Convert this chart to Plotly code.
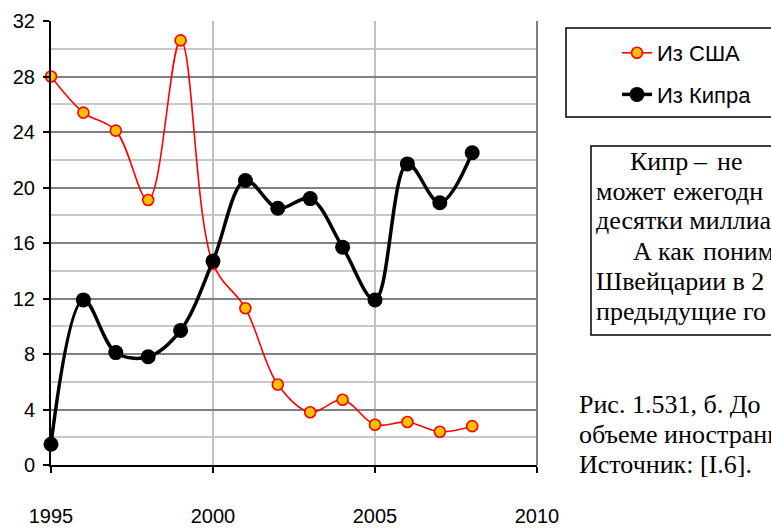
import plotly.graph_objects as go

years = list(range(1995, 2009))
usa = [28.0, 25.4, 24.1, 19.1, 30.6, 14.5, 11.3, 5.8, 3.8, 4.7, 2.9, 3.1, 2.4, 2.8]
cyprus = [1.5, 11.9, 8.1, 7.8, 9.7, 14.7, 20.5, 18.5, 19.2, 15.7, 11.9, 21.7, 18.9, 22.5]
name_usa = "Из США"
name_cyp = "Из Кипра"
x_ticks = [1995, 2000, 2005, 2010]
y_ticks = [0, 4, 8, 12, 16, 20, 24, 28, 32]

W, H = 771, 528
L, R, T, B = 51, 537, 21, 465

def px(x):
    return (x - L) / (R - L)

def py(y):
    return (B - y) / (B - T)

fig = go.Figure()
fig.add_trace(go.Scatter(
    x=years, y=usa, name=name_usa, mode="lines+markers",
    line=dict(color="#FF0000", width=1.6, shape="spline", smoothing=1),
    marker=dict(size=11, color="#FFC000", line=dict(color="#FF0000", width=1.6)),
    cliponaxis=False, legendgroup="a"))
fig.add_trace(go.Scatter(
    x=years, y=cyprus, name=name_cyp, mode="lines+markers",
    line=dict(color="#000000", width=3.5, shape="spline", smoothing=1),
    marker=dict(size=15, color="#000000"),
    cliponaxis=False, legendgroup="b"))

shapes = [
    dict(type="line", xref="paper", yref="paper", x0=1, x1=1, y0=0, y1=1,
         line=dict(color="#808080", width=2)),
    dict(type="rect", xref="paper", yref="paper", x0=px(566), x1=px(800),
         y0=py(117), y1=py(28), line=dict(color="#000000", width=1.5)),
    dict(type="rect", xref="paper", yref="paper", x0=px(591), x1=px(800),
         y0=py(335), y1=py(146), line=dict(color="#000000", width=1.5)),
]

serif = dict(family="Liberation Serif, Times New Roman, serif", size=26, color="#000000")
anns = []

def txt(s, x, y):
    anns.append(dict(text=s, xref="paper", yref="paper", x=px(x), y=py(y),
                     xanchor="left", yanchor="middle", showarrow=False, font=serif))

txt("Кипр", 628, 161)
txt("–", 691, 161)
txt("не", 715, 161)
txt("может", 594, 191)
txt("ежегодн", 671, 191)
txt("десятки миллиа", 594, 221)
txt("А", 631, 251)
txt("как", 656, 251)
txt("поним", 701, 251)
txt("Швейцарии в 2", 594, 281)
txt("предыдущие го", 594, 311)
txt("Рис. 1.531, б. До", 577, 404)
txt("объеме иностранн", 577, 434)
txt("Источник: [I.6].", 577, 464)

fig.update_layout(
    width=W, height=H,
    margin=dict(l=L, r=W - R, t=T, b=H - B, pad=0, autoexpand=False),
    paper_bgcolor="white", plot_bgcolor="white",
    font=dict(family="Liberation Sans, Arial, sans-serif", size=20, color="#000000"),
    showlegend=True,
    legend=dict(xref="container", yref="container", x=617 / W, y=1 - 32 / H,
                xanchor="left", yanchor="top",
                bgcolor="rgba(0,0,0,0)", borderwidth=0,
                font=dict(size=22), tracegroupgap=10, traceorder="grouped"),
    shapes=shapes, annotations=anns,
    xaxis=dict(range=[1995, 2010], tickvals=x_ticks, ticktext=[str(v) for v in x_ticks],
               showgrid=True, gridcolor="#C0C0C0", gridwidth=2,
               showline=True, linecolor="#000000", linewidth=2,
               ticks="outside", ticklen=6, tickcolor="#000000", tickwidth=2,
               ticklabelstandoff=26, zeroline=False, tickfont=dict(size=20),
               automargin=False),
    yaxis=dict(range=[0, 32], tickvals=y_ticks, ticktext=[str(v) for v in y_ticks],
               showgrid=True, gridcolor="#808080", gridwidth=1.5,
               minor=dict(dtick=2, showgrid=True, gridcolor="#C8C8C8", gridwidth=2),
               showline=True, linecolor="#000000", linewidth=2,
               ticks="outside", ticklen=6, tickcolor="#000000", tickwidth=2,
               ticklabelstandoff=4, zeroline=False, tickfont=dict(size=20),
               automargin=False),
)

fig.write_html("out.html", config={"displayModeBar": False},
               post_script="document.body.style.margin='0';document.body.style.overflow='hidden';")
